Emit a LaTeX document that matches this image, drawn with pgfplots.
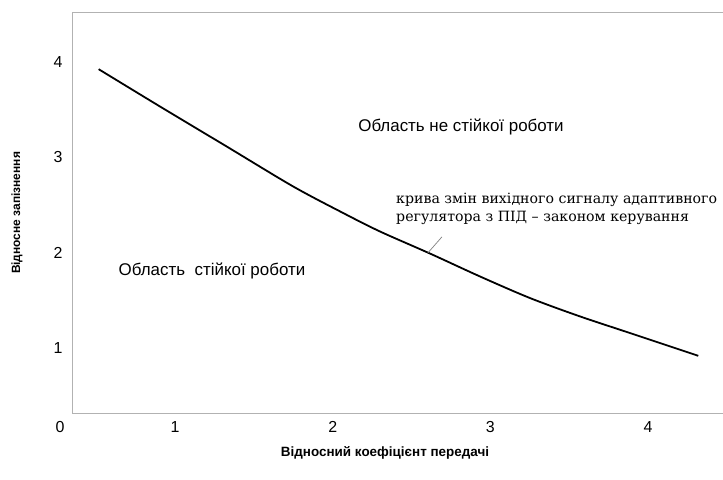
\documentclass[border=0pt]{standalone}
\usepackage{fontspec}
\setmainfont{Liberation Sans}
\newfontfamily\annfont{DejaVu Serif}
\usepackage{pgfplots}
\pgfplotsset{compat=1.18}

\pgfplotstableread{
x y
0.516 3.921
0.905 3.530
1.328 3.111
1.750 2.692
2.067 2.414
2.300 2.221
2.617 1.990
2.934 1.750
3.251 1.524
3.569 1.331
3.886 1.157
4.318 0.919
}\curve

\begin{document}
\begin{tikzpicture}[x=1bp,y=1bp]
\useasboundingbox (0,0) rectangle (723,480);
\begin{axis}[
    at={(72bp,67bp)}, anchor=south west,
    width=651bp, height=401bp, scale only axis,
    xmin=0.347, xmax=4.475, ymin=0.32, ymax=4.52,
    xtick={1,2,3,4}, ytick={1,2,3,4},
    major tick length=0pt,
    axis line style={draw=none},
    clip=false,
    /pgf/number format/assume math mode=true,
    tick label style={font=\fontsize{16}{18}\selectfont},
    xticklabel style={anchor=center, yshift=-14bp},
    yticklabel style={anchor=center, xshift=-14bp},
]
\draw[gray!60, line width=0.8bp] (rel axis cs:1,1) -- (rel axis cs:0,1) -- (rel axis cs:0,0) -- (rel axis cs:1,0);
\addplot[black, line width=1.8bp, smooth, tension=0.5] table[x=x,y=y] {\curve};
\node[font=\fontsize{16}{18}\selectfont] at (rel axis cs:0,0) [xshift=-12bp, yshift=-14bp] {0};
\draw[gray, line width=0.7bp] (axis cs:2.693,2.165) -- (axis cs:2.604,1.998);
\end{axis}
\node[font=\fontsize{17}{19}\selectfont] at (461,353) {Область не стійкої роботи};
\node[font=\fontsize{17}{19}\selectfont] at (212,209) {Область\ \ стійкої роботи};
\node[font=\annfont\fontsize{14.2}{18}\selectfont, anchor=west, align=left, inner sep=0pt] at (396,271) {крива змін вихідного сигналу адаптивного\\регулятора з ПІД – законом керування};
\node[font=\bfseries\fontsize{12}{14}\selectfont, rotate=90] at (17,267) {Відносне запізнення};
\node[font=\bfseries\fontsize{13.5}{15}\selectfont] at (385,27) {Відносний коефіцієнт передачі};
\end{tikzpicture}
\end{document}
